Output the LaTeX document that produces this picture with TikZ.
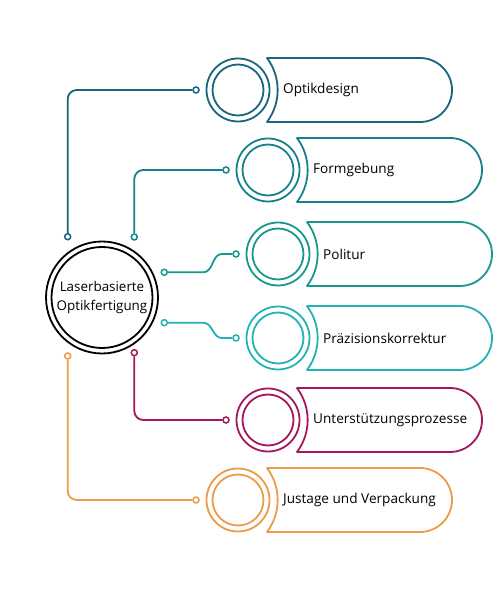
\documentclass[tikz,border=0pt]{standalone}
\usepackage{fontspec}
\setmainfont{Open Sans}
\usepackage{tikz}
\usetikzlibrary{positioning,arrows.meta}
\definecolor{petrol}{RGB}{22,102,124}
\definecolor{teal1}{RGB}{20,130,138}
\definecolor{teal2}{RGB}{24,152,140}
\definecolor{cyan1}{RGB}{34,178,180}
\definecolor{berry}{RGB}{166,22,92}
\definecolor{amber}{RGB}{236,156,72}
\tikzset{
  ring/.style={circle,draw=#1,line width=1.8pt,minimum size=63pt,inner sep=0pt},
  pill/.style={draw=#1,line width=1.8pt,line join=round},
  dot/.style={circle,draw=#1,fill=white,line width=1.5pt,minimum size=6pt,inner sep=0pt},
  wire/.style={draw=#1,line width=1.8pt},
  lbl/.style={font=\fontsize{13.6}{16}\selectfont,anchor=west,inner sep=0pt}
}

\begin{document}
\begin{tikzpicture}[x=1pt,y=1pt]
\useasboundingbox (0,0) rectangle (500,600);
% centre
\node[circle,draw,line width=1.8pt,minimum size=112pt,inner sep=0pt,
      align=center,font=\fontsize{13.4}{18.4}\selectfont] (core) at (102,302.5)
  {Laserbasierte\\Optikfertigung};
\draw[line width=1.8pt] (core) circle[radius=50.5];
% process steps
\foreach \n/\cx/\cy/\col/\txt in {1/238/510/petrol/Optikdesign,
    2/268/430/teal1/Formgebung,
    3/278/346/teal2/Politur,
    4/278/262/cyan1/Präzisionskorrektur,
    5/268/180/berry/Unterstützungsprozesse,
    6/238/100/amber/Justage und Verpackung}
{
  \node[ring=\col] (r\n) at (\cx,\cy) {};
  \draw[line width=1.8pt,draw=\col] (r\n) circle[radius=25.5];
  \draw[pill=\col] (\cx+29,\cy+32) -- ++(153,0)
    arc[start angle=90,end angle=-90,radius=32]
    -- (\cx+29,\cy-32) arc[start angle=-36.87,end angle=36.87,radius=53.3] -- cycle;
  \node[lbl] (t\n) at (\cx+45,\cy) {\txt};
  \node[dot=\col] (e\n) at (\cx-42,\cy) {};
}
% dots at the centre
\node[dot=petrol] (d1) at (67.7,363.3) {};
\node[dot=teal1] (d2) at (134.3,363) {};
\node[dot=teal2] (d3) at (164.3,327.7) {};
\node[dot=cyan1] (d4) at (164.3,277.3) {};
\node[dot=berry] (d5) at (134.3,247.3) {};
\node[dot=amber] (d6) at (67.7,244) {};
% connectors
\draw[wire=petrol,rounded corners=9pt] (d1) |- (e1);
\draw[wire=teal1,rounded corners=9pt] (d2) |- (e2);
\draw[wire=teal2] (d3) -- +(39,0) to[out=0,in=180] ([xshift=-14pt]e3.center) -- (e3);
\draw[wire=cyan1] (d4) -- +(39,0) to[out=0,in=180] ([xshift=-14pt]e4.center) -- (e4);
\draw[wire=berry,rounded corners=9pt] (d5) |- (e5);
\draw[wire=amber,rounded corners=9pt] (d6) |- (e6);
\end{tikzpicture}
\end{document}
